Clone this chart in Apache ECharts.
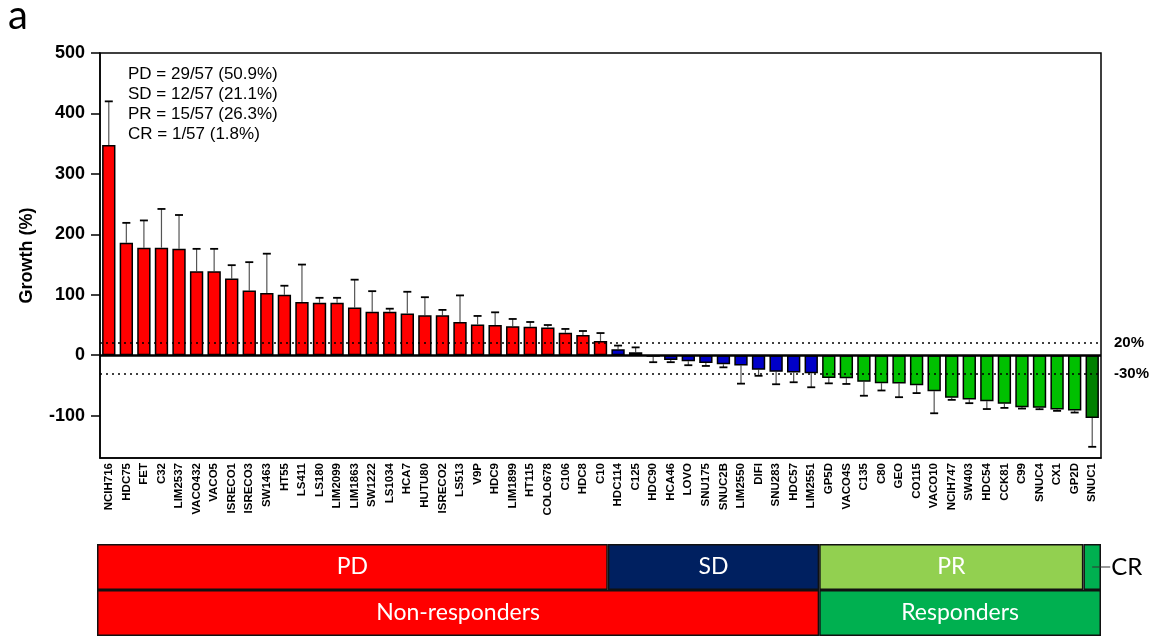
<!DOCTYPE html>
<html>
<head>
<meta charset="utf-8">
<script src="https://cdn.jsdelivr.net/npm/echarts@6/dist/echarts.min.js"></script>
<style>
  html, body { margin: 0; padding: 0; background: #fff; }
  #chart { width: 1162px; height: 637px; }
</style>
</head>
<body>
<div id="chart"></div>
<script>
// Cell lines, ordered by growth
const cellLines = [
  'NCIH716','HDC75','FET','C32','LIM2537','VACO432','VACO5','ISRECO1','ISRECO3','SW1463',
  'HT55','LS411','LS180','LIM2099','LIM1863','SW1222','LS1034','HCA7','HUTU80','ISRECO2',
  'LS513','V9P','HDC9','LIM1899','HT115','COLO678','C106','HDC8','C10',
  'HDC114','C125','HDC90','HCA46','LOVO','SNU175','SNUC2B','LIM2550','DIFI','SNU283','HDC57','LIM2551',
  'GP5D','VACO4S','C135','C80','GEO','CO115','VACO10','NCIH747','SW403','HDC54','CCK81','C99','SNUC4','CX1','GP2D',
  'SNUC1'
];

// Mean growth (%)
const growth = [
  348, 186, 178, 178, 176, 139, 139, 127, 107, 103,
  100, 88, 87, 87, 79, 72, 72, 69, 66, 66,
  55, 51, 50, 48, 47, 46, 37, 33.6, 23.7,
  10, 5, -2.5, -8, -10, -12.7, -15, -17, -24, -27.5, -28.7, -30,
  -37.5, -38, -44, -46.3, -46.8, -49.6, -59.5, -70.5, -73.3, -76, -80.4, -86, -87, -89.8, -91.5,
  -104
];

// Standard deviation (%)
const growthSD = [
  72, 33, 45, 64, 56, 37, 37, 22, 47, 65,
  15, 62, 8, 8, 46, 34, 5, 36, 30, 9,
  44, 14, 21, 12, 8, 4, 6.5, 6.5, 13,
  6, 8, 9, 3.5, 6.5, 5, 5, 30, 10, 20.5, 16, 23,
  9, 9.5, 23, 12, 22.6, 13, 36.5, 3.3, 6, 13, 6.7, 2.2, 2.3, 2.2, 3.3,
  47.5
];

// Response categories (counts, in bar order)
const responseNames = ['PD', 'SD', 'PR', 'CR'];
const responseCounts = [29, 12, 15, 1];
const responseColors = ['#ff0000', '#0000c8', '#00c000', '#008000'];
const responseBandColors = ['#ff0000', '#002060', '#92d050', '#00b050'];

const outcomeNames = ['Non-responders', 'Responders'];
const outcomeCounts = [41, 16];
const outcomeColors = ['#ff0000', '#00b050'];

const summaryLines = [
  'PD = 29/57 (50.9%)',
  'SD = 12/57 (21.1%)',
  'PR = 15/57 (26.3%)',
  'CR = 1/57 (1.8%)'
];

const yTicks = [-100, 0, 100, 200, 300, 400, 500];
const thresholds = [20, -30];

// colour of each bar from its response group
function groupOf(i) {
  let acc = 0;
  for (let g = 0; g < responseCounts.length; g++) {
    acc += responseCounts[g];
    if (i < acc) return g;
  }
  return responseCounts.length - 1;
}

const barData = growth.map((v, i) => ({
  value: v,
  itemStyle: { color: responseColors[groupOf(i)] }
}));
const errData = growth.map((v, i) => [i, v, v >= 0 ? v + growthSD[i] : v - growthSD[i]]);

const FONT = '"Liberation Sans", Arial, sans-serif';
const BAND_FONT = 'Lato, "Open Sans", sans-serif';

// stacked band rows beneath the chart
const bandSeries = [];
responseNames.forEach((name, k) => {
  bandSeries.push({
    name: name,
    type: 'bar',
    xAxisIndex: 1,
    yAxisIndex: 1,
    stack: 'band',
    barWidth: '100%',
    silent: true,
    data: [responseCounts[k], '-'],
    itemStyle: { color: responseBandColors[k], borderColor: '#111', borderWidth: 1.5 },
    label: name === 'CR' ? {
      show: true,
      position: ['50%', '50%'],
      align: 'left',
      verticalAlign: 'middle',
      formatter: '{l|}{t|CR}',
      rich: {
        l: { width: 18, height: 1, backgroundColor: '#333' },
        t: { fontFamily: BAND_FONT, fontSize: 24, color: '#000', padding: [0, 0, 0, 1] }
      }
    } : {
      show: true,
      position: 'inside',
      formatter: name,
      color: '#fff',
      fontFamily: BAND_FONT,
      fontSize: 23
    }
  });
});
outcomeNames.forEach((name, k) => {
  bandSeries.push({
    name: name,
    type: 'bar',
    xAxisIndex: 1,
    yAxisIndex: 1,
    stack: 'band',
    barWidth: '100%',
    silent: true,
    data: ['-', outcomeCounts[k]],
    itemStyle: { color: outcomeColors[k], borderColor: '#111', borderWidth: 1.5 },
    label: {
      show: true,
      position: 'inside',
      formatter: name,
      color: '#fff',
      fontFamily: BAND_FONT,
      fontSize: 23
    }
  });
});

const chart = echarts.init(document.getElementById('chart'), null, { renderer: 'canvas' });

chart.setOption({
  animation: false,
  backgroundColor: '#fff',
  title: [
    {
      text: 'a',
      left: 8, top: -4,
      padding: 0,
      textStyle: { fontFamily: BAND_FONT, fontWeight: 'normal', fontSize: 40, color: '#000' }
    },
    {
      text: summaryLines.join('\n'),
      left: 128, top: 64,
      padding: 0,
      textStyle: { fontFamily: FONT, fontWeight: 'normal', fontSize: 17, lineHeight: 20, color: '#000' }
    }
  ],
  grid: [
    {
      left: 100, right: 61, top: 53, bottom: 179,
      show: true, borderColor: '#000', borderWidth: 1.5, backgroundColor: 'transparent'
    },
    { left: 97, right: 61, top: 544, height: 92 }
  ],
  xAxis: [
    {
      type: 'category',
      gridIndex: 0,
      data: cellLines,
      axisLine: { onZero: false, lineStyle: { color: '#000', width: 1.5 } },
      axisTick: { alignWithLabel: true, length: 7, lineStyle: { color: '#000', width: 1.5 } },
      axisLabel: {
        interval: 0, rotate: 90, margin: 5,
        fontFamily: FONT, fontWeight: 'bold', fontSize: 11.5, color: '#000'
      },
      splitLine: { show: false }
    },
    {
      type: 'value',
      gridIndex: 1,
      min: 0, max: 57,
      show: false
    }
  ],
  yAxis: [
    {
      type: 'value',
      gridIndex: 0,
      min: -170, max: 500,
      name: 'Growth (%)',
      nameLocation: 'middle',
      nameGap: 64,
      nameTextStyle: { fontFamily: FONT, fontWeight: 'bold', fontSize: 18, color: '#000' },
      axisLine: { show: true, lineStyle: { color: '#000', width: 1.5 } },
      axisTick: { show: true, length: 9, customValues: yTicks, lineStyle: { color: '#000', width: 1.5 } },
      axisLabel: {
        customValues: yTicks, margin: 15,
        fontFamily: FONT, fontWeight: 'bold', fontSize: 18, color: '#000'
      },
      splitLine: { show: false }
    },
    {
      type: 'category',
      gridIndex: 1,
      inverse: true,
      data: ['response', 'outcome'],
      show: false
    }
  ],
  series: [
    {
      name: 'Growth',
      type: 'bar',
      xAxisIndex: 0,
      yAxisIndex: 0,
      data: barData,
      barCategoryGap: '24%',
      itemStyle: { borderColor: '#000', borderWidth: 1.5 },
      markLine: {
        silent: true,
        symbol: 'none',
        animation: false,
        data: [
          { yAxis: 0, lineStyle: { type: 'solid', width: 2.5, color: '#000' }, label: { show: false } },
          ...thresholds.map(t => ({
            yAxis: t,
            lineStyle: { type: [2, 4], width: 1.5, color: '#000' },
            label: {
              show: true, position: 'end', distance: 13,
              formatter: t + '%',
              fontFamily: FONT, fontWeight: 'bold', fontSize: 15, color: '#000'
            }
          }))
        ]
      },
      z: 3
    },
    {
      name: 'SD',
      type: 'custom',
      xAxisIndex: 0,
      yAxisIndex: 0,
      data: errData,
      silent: true,
      z: 2,
      renderItem: function (params, api) {
        const base = api.coord([api.value(0), api.value(1)]);
        const tip = api.coord([api.value(0), api.value(2)]);
        const half = 4;
        return {
          type: 'group',
          children: [
            {
              type: 'line',
              shape: { x1: base[0], y1: base[1], x2: tip[0], y2: tip[1] },
              style: { stroke: '#555', lineWidth: 1.2 }
            },
            {
              type: 'line',
              shape: { x1: tip[0] - half, y1: tip[1], x2: tip[0] + half, y2: tip[1] },
              style: { stroke: '#000', lineWidth: 1.8 }
            }
          ]
        };
      }
    },
    ...bandSeries
  ]
});
</script>
</body>
</html>
